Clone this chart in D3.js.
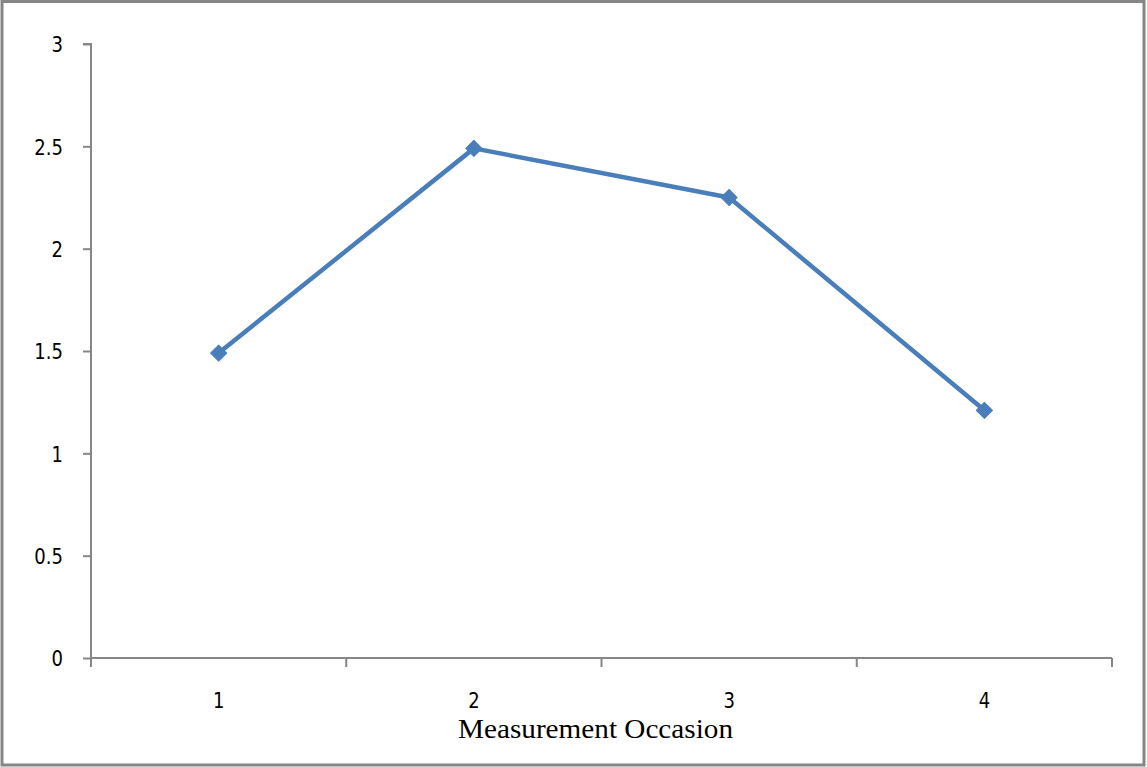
<!DOCTYPE html>
<html><head><meta charset="utf-8">
<script src="https://cdn.jsdelivr.net/npm/d3@7"></script>
<style>body{margin:0;background:#fff}svg{display:block}</style>
</head><body>
<svg id="c" width="1147" height="767"></svg>
<script>
const categories = ["1","2","3","4"];
const values = [1.49, 2.49, 2.25, 1.21];
const yTicks = [0, 0.5, 1, 1.5, 2, 2.5, 3];
const xTitle = "Measurement Occasion";

(function(){
const svg = d3.select("#c");
const W = 1147, H = 767;
svg.append("rect").attr("x",2).attr("y",1.5).attr("width",W-5).attr("height",H-3.5)
  .attr("fill","#fff").attr("stroke","#868686").attr("stroke-width",3);

const pl = 91, pr = 1112, pt = 44, pb = 658;
const x = d3.scaleBand().domain(categories).range([pl, pr]).paddingInner(0).paddingOuter(0);
const y = d3.scaleLinear().domain([0,3]).range([pb, pt]);
const FONT = "'DejaVu Sans', sans-serif";

const yAxis = svg.append("g").attr("transform",`translate(${pl},0)`)
  .call(d3.axisLeft(y).tickValues(yTicks).tickSize(8).tickPadding(0).tickFormat(d3.format("")));
yAxis.select(".domain").attr("stroke","#868686").attr("stroke-width",2).attr("d",`M-8,${pt}H0V${pb}`);
yAxis.selectAll(".tick line").attr("stroke","#868686").attr("stroke-width",2);
yAxis.selectAll("text")
  .attr("x",null).attr("dy","0.36em")
  .attr("transform","translate(-28,0) scale(0.82,1)")
  .attr("font-family",FONT).attr("font-size",22).attr("fill","#000");

const xg = svg.append("g").attr("transform",`translate(0,${pb})`);
xg.append("line").attr("x1",pl).attr("x2",pr).attr("y1",0).attr("y2",0).attr("stroke","#868686").attr("stroke-width",2);
const bounds = categories.map(c=>x(c)).concat([pr]);
xg.selectAll("line.t").data(bounds).join("line").attr("class","t")
  .attr("x1",d=>d).attr("x2",d=>d).attr("y1",0).attr("y2",9).attr("stroke","#868686").attr("stroke-width",2);
xg.selectAll("text.l").data(categories).join("text").attr("class","l")
  .attr("transform",d=>`translate(${x(d)+x.bandwidth()/2},50) scale(0.82,1)`)
  .attr("text-anchor","middle")
  .attr("font-family",FONT).attr("font-size",22).attr("fill","#000").text(d=>d);

svg.append("text").attr("x",458).attr("y",738)
  .attr("textLength",275).attr("lengthAdjust","spacingAndGlyphs")
  .attr("font-family","'Liberation Serif', serif").attr("font-size",27).attr("fill","#000").text(xTitle);

const pts = categories.map((c,i)=>[x(c)+x.bandwidth()/2, y(values[i])]);
svg.append("path").attr("d",d3.line()(pts)).attr("fill","none").attr("stroke","#4A7EBB").attr("stroke-width",4.5).attr("stroke-linejoin","round");
svg.selectAll("path.m").data(pts).join("path").attr("class","m")
  .attr("d",d3.symbol(d3.symbolSquare,130)()).attr("transform",d=>`translate(${d[0]},${d[1]}) rotate(45)`)
  .attr("fill","#4A7EBB").attr("stroke","#4A7EBB").attr("stroke-width",1).attr("stroke-linejoin","round");
})();
</script>
</body></html>
